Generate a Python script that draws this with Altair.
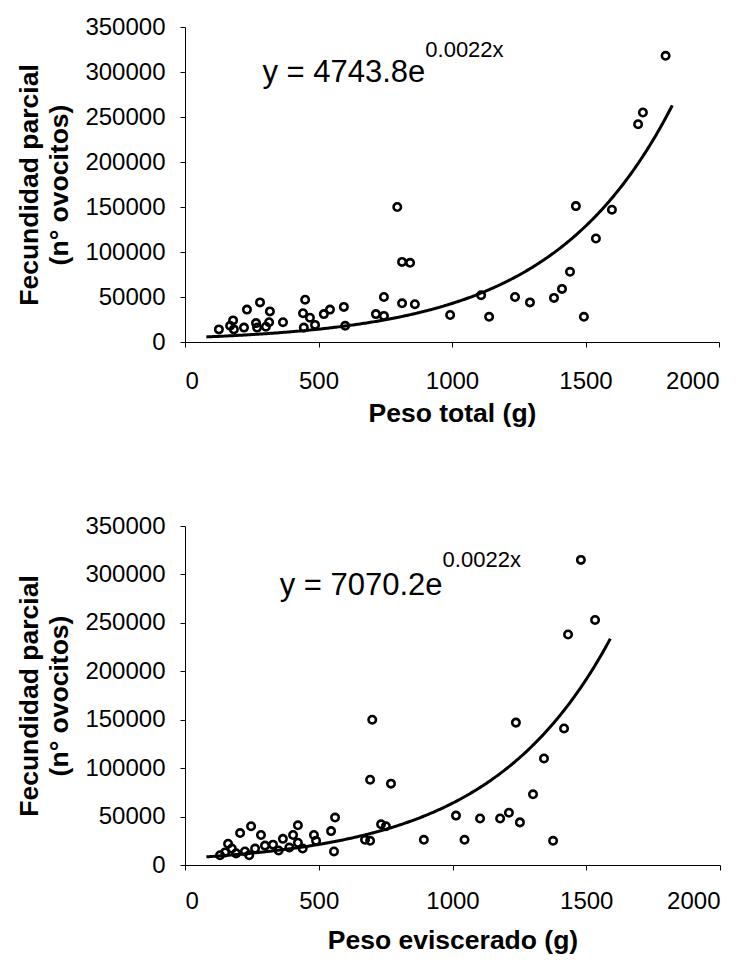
import altair as alt
import pandas as pd

# ---- data ----
top_weight = [127, 169, 180, 183, 221, 232, 266, 270, 281, 303, 315, 318, 367, 442, 445, 450, 468, 487,
              520, 543, 595, 600, 715, 745, 745, 795, 813, 843, 813, 861, 993, 1109, 1139, 1236, 1292,
              1382, 1412, 1442, 1464, 1494, 1539, 1599, 1697, 1715, 1800]
top_fec = [14000, 18000, 24000, 14000, 16000, 36000, 21000, 16000, 44000, 17000, 22000, 34000, 22000,
           32000, 16000, 47000, 27000, 19000, 31000, 36000, 39000, 18000, 31000, 50000, 29000, 150000,
           89000, 88000, 43000, 42000, 30000, 52000, 28000, 50000, 44000, 49000, 59000, 78000, 151000,
           28000, 115000, 147000, 242000, 255000, 318000]

bot_weight = [131, 150, 161, 175, 191, 206, 224, 240, 247, 262, 284, 299, 329, 350, 366, 390, 404, 422,
              422, 440, 482, 490, 546, 561, 557, 673, 692, 692, 700, 733, 751, 770, 893, 1013, 1045,
              1103, 1178, 1211, 1237, 1252, 1301, 1342, 1376, 1417, 1432, 1480, 1533]
bot_fec = [10000, 13000, 22000, 17000, 12000, 33000, 14000, 10000, 40000, 17000, 31000, 20000, 21000,
           15000, 27000, 18000, 31000, 41000, 23000, 17000, 31000, 25000, 35000, 49000, 14000, 26000,
           25000, 88000, 150000, 42000, 40000, 84000, 26000, 51000, 26000, 48000, 48000, 54000, 147000,
           44000, 73000, 110000, 25000, 141000, 238000, 315000, 253000]

# fitted trend lines as printed on the chart
top_coef, bot_coef, rate = 4743.8, 7070.2, 0.0022
top_fit_range = [80, 1825]
bot_fit_range = [80, 1590]

top_eq = ["y = 4743.8e", "0.0022x"]
bot_eq = ["y = 7070.2e", "0.0022x"]
# annotation anchors in data units: x of join, y of main baseline, y of superscript centre
top_eq_pos = [900, 289000, 325000]
bot_eq_pos = [963, 279000, 315000]

x_ticks = [0, 500, 1000, 1500, 2000]
y_ticks = [0, 50000, 100000, 150000, 200000, 250000, 300000, 350000]
y_title = ["Fecundidad parcial", "(n° ovocitos)"]

FONT = "Liberation Sans"


def panel(xs, ys, coef, fit_range, eq, eq_pos, xtitle, w, h, lab_pad, title_pad):
    xscale = alt.Scale(domain=[0, 2000], nice=False, zero=True)
    yscale = alt.Scale(domain=[0, 350000], nice=False)
    xaxis = alt.Axis(title=xtitle, values=x_ticks, format="d", labelPadding=lab_pad,
                     titlePadding=title_pad)
    yaxis = alt.Axis(title=y_title, values=y_ticks, format="d", labelPadding=15,
                     titlePadding=11, titleLineHeight=30)
    pts = pd.DataFrame({"x": xs, "y": ys})
    points = alt.Chart(pts).mark_point(
        shape="circle", filled=False, color="black", size=55, strokeWidth=2.6, opacity=1
    ).encode(
        x=alt.X("x:Q", scale=xscale, axis=xaxis),
        y=alt.Y("y:Q", scale=yscale, axis=yaxis),
    )
    line = alt.Chart(alt.sequence(fit_range[0], fit_range[1] + 1, 5, as_="x")).transform_calculate(
        y=f"{coef} * exp({rate} * datum.x)"
    ).mark_line(color="black", strokeWidth=3).encode(
        x=alt.X("x:Q", scale=xscale),
        y=alt.Y("y:Q", scale=yscale),
    )
    ann = pd.DataFrame({"x": [eq_pos[0]], "ym": [eq_pos[1]], "ys": [eq_pos[2]],
                        "tm": [eq[0]], "ts": [eq[1]]})
    main_txt = alt.Chart(ann).mark_text(
        align="right", baseline="alphabetic", fontSize=31, font=FONT, color="black"
    ).encode(x=alt.X("x:Q", scale=xscale), y=alt.Y("ym:Q", scale=yscale), text="tm:N")
    sup_txt = alt.Chart(ann).mark_text(
        align="left", baseline="middle", fontSize=22, font=FONT, color="black"
    ).encode(x=alt.X("x:Q", scale=xscale), y=alt.Y("ys:Q", scale=yscale), text="ts:N")
    return alt.layer(points, line, main_txt, sup_txt).properties(width=w, height=h)


top = panel(top_weight, top_fec, top_coef, top_fit_range, top_eq, top_eq_pos,
            "Peso total (g)", 534, 315, 22, 7)
bottom = panel(bot_weight, bot_fec, bot_coef, bot_fit_range, bot_eq, bot_eq_pos,
               "Peso eviscerado (g)", 535, 339, 19, 14)

chart = alt.vconcat(top, bottom, spacing=87).properties(
    padding={"left": 8, "top": 7, "right": 0, "bottom": 0}
).configure_view(stroke=None).configure_axis(
    grid=False,
    domainColor="black",
    domainWidth=1,
    tickColor="black",
    tickSize=5,
    labelFont=FONT,
    labelFontSize=24,
    labelColor="black",
    titleFont=FONT,
    titleFontSize=26.5,
    titleFontWeight="bold",
    titleColor="black",
)

chart.save("out.html", embed_options={"renderer": "svg", "actions": False})
